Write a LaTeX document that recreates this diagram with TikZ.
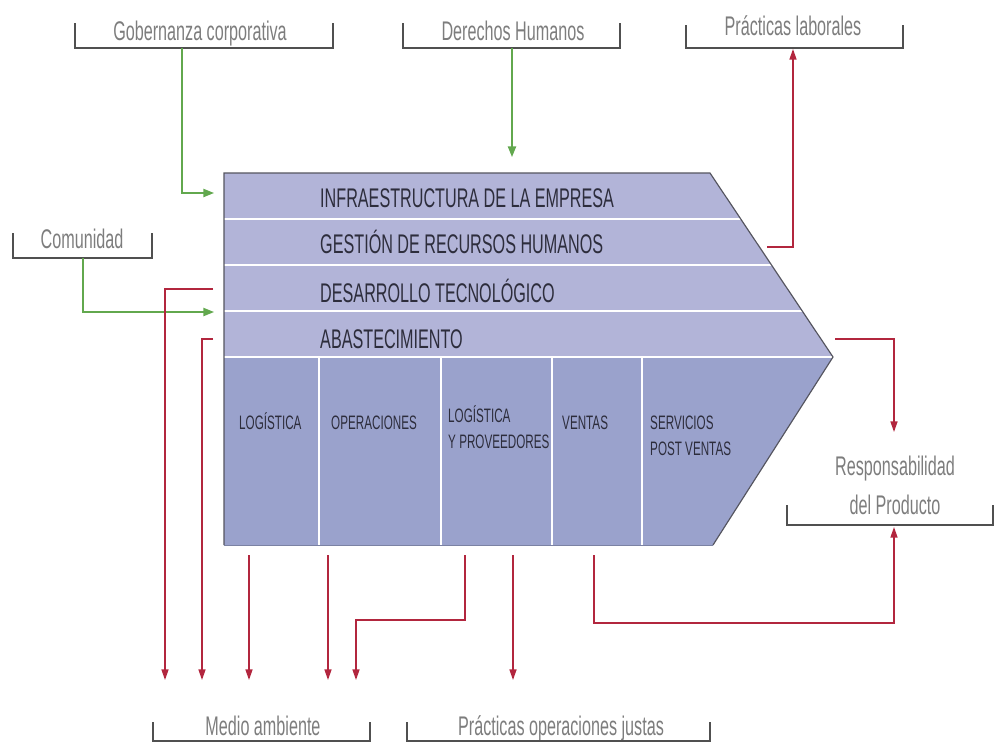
\documentclass[tikz,border=0pt]{standalone}
\usepackage{fontspec}
\newfontfamily\narrowsf[FakeStretch=0.6]{Liberation Sans}
\usetikzlibrary{arrows.meta}

\definecolor{bandblue}{RGB}{178,180,216}
\definecolor{primblue}{RGB}{154,162,204}
\definecolor{edgegray}{RGB}{85,85,95}
\definecolor{inkgray}{RGB}{45,45,60}
\definecolor{taggray}{RGB}{125,125,125}
\definecolor{bargray}{RGB}{80,80,80}
\definecolor{outred}{RGB}{178,38,62}
\definecolor{ingreen}{RGB}{98,168,78}

\begin{document}
\begin{tikzpicture}[x=0.03cm,y=-0.03cm,
  band/.style={anchor=base west,inner sep=0,text=inkgray,font=\narrowsf\fontsize{23}{25}\selectfont},
  prim/.style={anchor=base west,inner sep=0,text=inkgray,align=left,font=\narrowsf\fontsize{16.6}{21.8}\selectfont},
  tag/.style={anchor=base,inner sep=0,text=taggray,align=center,font=\narrowsf\fontsize{23}{33}\selectfont},
  bar/.style={draw=bargray,line width=1.4pt},
  inflow/.style={draw=ingreen,line width=1.1pt,-{Triangle[length=9pt,width=7pt]}},
  outflow/.style={draw=outred,line width=1.1pt,-{Triangle[length=9pt,width=6pt]}}]
\useasboundingbox (0,0) rectangle (995,743);

% value chain arrow
\fill[bandblue] (224,173) -- (710,173) -- (833,357) -- (713,545) -- (224,545) -- cycle;
\fill[primblue] (224,357) -- (833,357) -- (713,545) -- (224,545) -- cycle;
\begin{scope}
  \clip (224,173) -- (710,173) -- (833,357) -- (713,545) -- (224,545) -- cycle;
  \foreach \y in {219,265,311,357}
    \draw[white,line width=2.4pt] (220,\y) -- (840,\y);
  \foreach \x in {319,441,552,642}
    \draw[white,line width=1.2pt] (\x,357) -- (\x,550);
\end{scope}
\draw[edgegray,line width=1pt] (224,545) -- (224,173) -- (710,173) -- (833,357) -- (713,545);
\draw[primblue!80!black,line width=0.6pt] (224,545) -- (713,545);

% support activities
\node[band] (infra) at (320,207) {INFRAESTRUCTURA DE LA EMPRESA};
\node[band] (rrhh) at (320,253) {GESTIÓN DE RECURSOS HUMANOS};
\node[band] (tec) at (320,302) {DESARROLLO TECNOLÓGICO};
\node[band] (abast) at (320,348) {ABASTECIMIENTO};

% primary activities (base = last line)
\node[prim] (log) at (239,429) {LOGÍSTICA};
\node[prim] (ope) at (331,429) {OPERACIONES};
\node[prim] (prov) at (448,448) {LOGÍSTICA\\Y PROVEEDORES};
\node[prim] (venta) at (562,429) {VENTAS};
\node[prim] (post) at (650,455) {SERVICIOS\\POST VENTAS};

% stakeholder labels
\node[tag] (gob) at (200,40) {Gobernanza corporativa};
\node[tag] (der) at (513,40) {Derechos Humanos};
\node[tag] (lab) at (793,35) {Prácticas laborales};
\node[tag] (com) at (82,248) {Comunidad};
\node[tag] (resp) at (895,514) {Responsabilidad\\del Producto};
\node[tag] (medio) at (263,735) {Medio ambiente};
\node[tag] (justas) at (561,735) {Prácticas operaciones justas};

\draw[bar] (75,23) |- (333,48) -- (333,23);
\draw[bar] (403,23) |- (620,48) -- (620,23);
\draw[bar] (686,25) |- (903,48) -- (903,25);
\draw[bar] (13,233) |- (152,258) -- (152,233);
\draw[bar] (787,505) |- (993,525) -- (993,505);
\draw[bar] (153,722) |- (370,741) -- (370,722);
\draw[bar] (407,722) |- (710,741) -- (710,722);

% connector ends
\coordinate (gob-foot) at (182,48);
\coordinate (der-foot) at (512,48);
\coordinate (com-foot) at (83,258);
\coordinate (lab-foot) at (793,49);
\coordinate (resp-top) at (894,432);
\coordinate (resp-foot) at (894,527);
\coordinate (infra-in) at (214,193);
\coordinate (der-in) at (512,157);
\coordinate (abast-in) at (214,312);
\coordinate (rrhh-out) at (767,247);
\coordinate (tip-out) at (835,339);
\coordinate (tec-out) at (213,289);
\coordinate (abast-out) at (213,339);
\coordinate (log-out) at (249,555);
\coordinate (ope-out) at (328,555);
\coordinate (prov-out) at (465,555);
\coordinate (mid-out) at (513,555);
\coordinate (venta-out) at (594,555);
\coordinate (medio-1) at (165,680);
\coordinate (medio-2) at (202,680);
\coordinate (medio-3) at (249,680);
\coordinate (medio-4) at (328,680);
\coordinate (medio-5) at (356,680);
\coordinate (justas-in) at (513,680);

% inputs
\draw[inflow] (gob-foot) |- (infra-in);
\draw[inflow] (der-foot) -- (der-in);
\draw[inflow] (com-foot) |- (abast-in);

% impacts
\draw[outflow] (rrhh-out) -| (lab-foot);
\draw[outflow] (tip-out) -| (resp-top);
\draw[outflow] (tec-out) -| (medio-1);
\draw[outflow] (abast-out) -| (medio-2);
\draw[outflow] (log-out) -- (medio-3);
\draw[outflow] (ope-out) -- (medio-4);
\draw[outflow] (prov-out) -- ++(0,65) -| (medio-5);
\draw[outflow] (mid-out) -- (justas-in);
\draw[outflow] (venta-out) -- ++(0,68) -| (resp-foot);
\end{tikzpicture}
\end{document}
